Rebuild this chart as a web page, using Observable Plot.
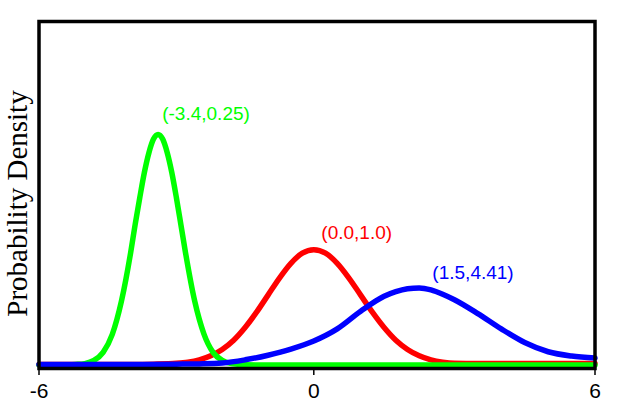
<!DOCTYPE html>
<html><head><meta charset="utf-8">
<script src="https://cdn.jsdelivr.net/npm/d3@7"></script>
<script src="https://cdn.jsdelivr.net/npm/@observablehq/plot@0.6"></script>
<style>html,body{margin:0;padding:0;background:#fff}</style>
</head><body><div id="chart"></div>
<script>
// Series labels (mean, variance) and colours
const seriesNames = ["(0.0,1.0)", "(-3.4,0.25)", "(1.5,4.41)"];
const seriesColors = ["#ff0000", "#00ff00", "#0000ff"];

// Red curve
const redX = [-6, -4, -3.5, -3, -2.75, -2.5, -2.25, -2, -1.75, -1.5, -1.25, -1, -0.75, -0.5, -0.25, 0, 0.25, 0.5, 0.75, 1, 1.25, 1.5, 1.75, 2, 2.25, 2.5, 2.75, 3, 3.5, 4, 5, 6];
const redY = [0.002, 0.002, 0.003, 0.006, 0.010, 0.018, 0.032, 0.054, 0.086, 0.130, 0.183, 0.242, 0.301, 0.352, 0.387, 0.399, 0.387, 0.352, 0.301, 0.242, 0.183, 0.130, 0.086, 0.054, 0.032, 0.018, 0.010, 0.006, 0.005, 0.005, 0.005, 0.005];

// Green curve
const greenX = [-6, -5.5, -5.2, -5.0, -4.8, -4.6, -4.4, -4.2, -4.0, -3.9, -3.8, -3.7, -3.6, -3.5, -3.4, -3.3, -3.2, -3.1, -3.0, -2.9, -2.8, -2.6, -2.4, -2.2, -2.0, -1.8, -1.5, -1.0, 0, 2, 4, 6];
const greenY = [0, 0, 0.002, 0.005, 0.016, 0.044, 0.106, 0.221, 0.388, 0.487, 0.579, 0.666, 0.735, 0.782, 0.798, 0.782, 0.735, 0.666, 0.579, 0.484, 0.388, 0.221, 0.108, 0.044, 0.016, 0.005, 0.001, 0, 0, 0, 0, 0];

// Blue curve
const blueX = [-6, -4, -3, -2.5, -2, -1.5, -1, -0.5, 0, 0.5, 1, 1.5, 1.75, 2, 2.25, 2.5, 2.75, 3, 3.5, 4, 4.5, 5, 5.5, 6];
const blueY = [0.002, 0.002, 0.003, 0.004, 0.007, 0.018, 0.034, 0.055, 0.083, 0.125, 0.186, 0.238, 0.254, 0.264, 0.267, 0.260, 0.245, 0.226, 0.178, 0.125, 0.078, 0.046, 0.031, 0.024];

// Axis
const xTicks = [-6, 0, 6];
const yLabel = "Probability Density";

// Annotation anchors (data coordinates)
const labelX = [0.16, -3.31, 2.53];
const labelY = [0.458, 0.868, 0.318];
const yLabelX = [-6.47];
const yLabelY = [0.559];

const curves = [
  {x: redX, y: redY},
  {x: greenX, y: greenY},
  {x: blueX, y: blueY}
];
const rows = (i) => curves[i].x.map((x, j) => ({x, y: curves[i].y[j]}));
const labels = seriesNames.map((name, i) => ({name, x: labelX[i], y: labelY[i], color: seriesColors[i]}));
const yLab = [{text: yLabel, x: yLabelX[0], y: yLabelY[0]}];

const chart = Plot.plot({
  width: 617,
  height: 410,
  marginLeft: 38.5,
  marginRight: 22.5,
  marginTop: 21,
  marginBottom: 42,
  style: {background: "#fff", fontFamily: "Liberation Sans, Arial, sans-serif", overflow: "visible"},
  x: {type: "linear", domain: [-6, 0, 6], range: [38.5, 313.3, 594.5]},
  y: {type: "linear", domain: [-0.012, 1.189], axis: null},
  marks: [
    Plot.line(rows(0), {x: "x", y: "y", stroke: seriesColors[0], strokeWidth: 5.5, curve: "monotone-x"}),
    Plot.line(rows(1), {x: "x", y: "y", stroke: seriesColors[1], strokeWidth: 5.5, curve: "monotone-x"}),
    Plot.line(rows(2), {x: "x", y: "y", stroke: seriesColors[2], strokeWidth: 5.5, curve: "monotone-x"}),
    Plot.text(labels, {x: "x", y: "y", text: "name", fill: "color", textAnchor: "start", lineAnchor: "middle", fontSize: 19, fontFamily: "Liberation Sans, Arial, sans-serif"}),
    Plot.axisX({ticks: xTicks, tickFormat: () => "", tickSize: 7, strokeWidth: 1.5, stroke: "#000", label: null}),
    Plot.text(xTicks, {x: d => d, frameAnchor: "bottom", dy: 22.5, text: d => String(d), lineAnchor: "middle", fontSize: 21, fontFamily: "Liberation Sans, Arial, sans-serif", fill: "#000"}),
    Plot.text(yLab, {x: "x", y: "y", text: "text", rotate: -90, fontSize: 29, fontFamily: "Liberation Serif, Times New Roman, serif", fill: "#000", lineAnchor: "middle", textAnchor: "middle"}),
    Plot.frame({stroke: "#000", strokeWidth: 3.5})
  ]
});
document.getElementById("chart").appendChild(chart);
</script>
</body></html>
